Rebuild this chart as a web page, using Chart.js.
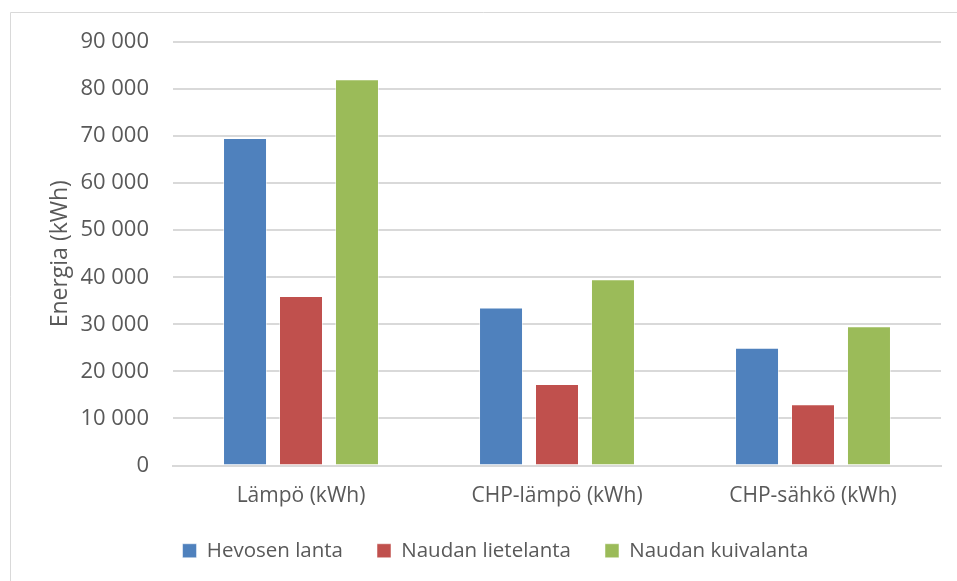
<!DOCTYPE html>
<html>
<head>
<meta charset="utf-8">
<script src="https://cdn.jsdelivr.net/npm/chart.js@4/dist/chart.umd.min.js"></script>
<style>
html,body{margin:0;padding:0;background:#fff;}
#wrap{width:957px;height:581px;position:relative;}
</style>
</head>
<body>
<div id="wrap"><canvas id="c" width="957" height="581"></canvas></div>
<script>
const categories = ["Lämpö (kWh)", "CHP-lämpö (kWh)", "CHP-sähkö (kWh)"];
const hevosenLanta = [69600, 33600, 25000];
const naudanLietelanta = [36000, 17300, 13000];
const naudanKuivalanta = [82100, 39600, 29600];
const seriesNames = ["Hevosen lanta", "Naudan lietelanta", "Naudan kuivalanta"];
const yTitle = "Energia (kWh)";
const yMin = 0, yMax = 90000, yStep = 10000;

const TEXT = '#595959';
const GRID = '#D9D9D9';
const FONT = "'Open Sans', sans-serif";

const frame = {
  id: 'frame',
  afterLayout(chart) {
    if (chart.legend) { chart.legend.left += 20; chart.legend.right += 20; }
  },
  afterDraw(chart) {
    const ctx = chart.ctx;
    ctx.save();
    ctx.strokeStyle = GRID;
    ctx.lineWidth = 1;
    ctx.beginPath();
    ctx.moveTo(10.5, 581);
    ctx.lineTo(10.5, 12.5);
    ctx.lineTo(957, 12.5);
    ctx.stroke();
    ctx.restore();
  }
};

function fmt(v) {
  return String(v).replace(/\B(?=(\d{3})+(?!\d))/g, ' ');
}

new Chart(document.getElementById('c'), {
  type: 'bar',
  data: {
    labels: categories,
    datasets: [
      { label: seriesNames[0], data: hevosenLanta, backgroundColor: '#4F81BD', borderColor: 'rgba(255,255,255,0.5)', borderWidth: 1 },
      { label: seriesNames[1], data: naudanLietelanta, backgroundColor: '#C0504D', borderColor: 'rgba(255,255,255,0.5)', borderWidth: 1 },
      { label: seriesNames[2], data: naudanKuivalanta, backgroundColor: '#9BBB59', borderColor: 'rgba(255,255,255,0.5)', borderWidth: 1 }
    ]
  },
  options: {
    responsive: false,
    animation: false,
    devicePixelRatio: 1,
    categoryPercentage: 0.656,
    barPercentage: 0.786,
    layout: { padding: { left: 10, right: 16, top: 42, bottom: 10 } },
    plugins: {
      legend: {
        position: 'bottom',
        labels: {
          color: TEXT,
          font: { family: FONT, size: 20.5 },
          boxWidth: 14,
          boxHeight: 14,
          padding: 34
        }
      },
      tooltip: { enabled: false },
      title: { display: false }
    },
    scales: {
      x: {
        grid: { display: false },
        border: { display: true, color: GRID, width: 2 },
        ticks: { color: TEXT, font: { family: FONT, size: 21 }, padding: 10 },
        afterFit(s) { s.height = 41; s.paddingLeft = 0; s.paddingRight = 0; }
      },
      y: {
        min: yMin, max: yMax,
        grid: { color: GRID, lineWidth: 2, drawTicks: false },
        border: { display: false },
        ticks: { stepSize: yStep, color: TEXT, font: { family: FONT, size: 22 }, padding: 24, callback: v => fmt(v) },
        title: { display: true, text: yTitle, color: TEXT, font: { family: FONT, size: 23 }, padding: { top: 37, bottom: 0 } },
        afterFit(s) { s.width = 173 - 10; s.paddingTop = 0; s.paddingBottom = 0; }
      }
    }
  },
  plugins: [frame]
});
</script>
</body>
</html>
